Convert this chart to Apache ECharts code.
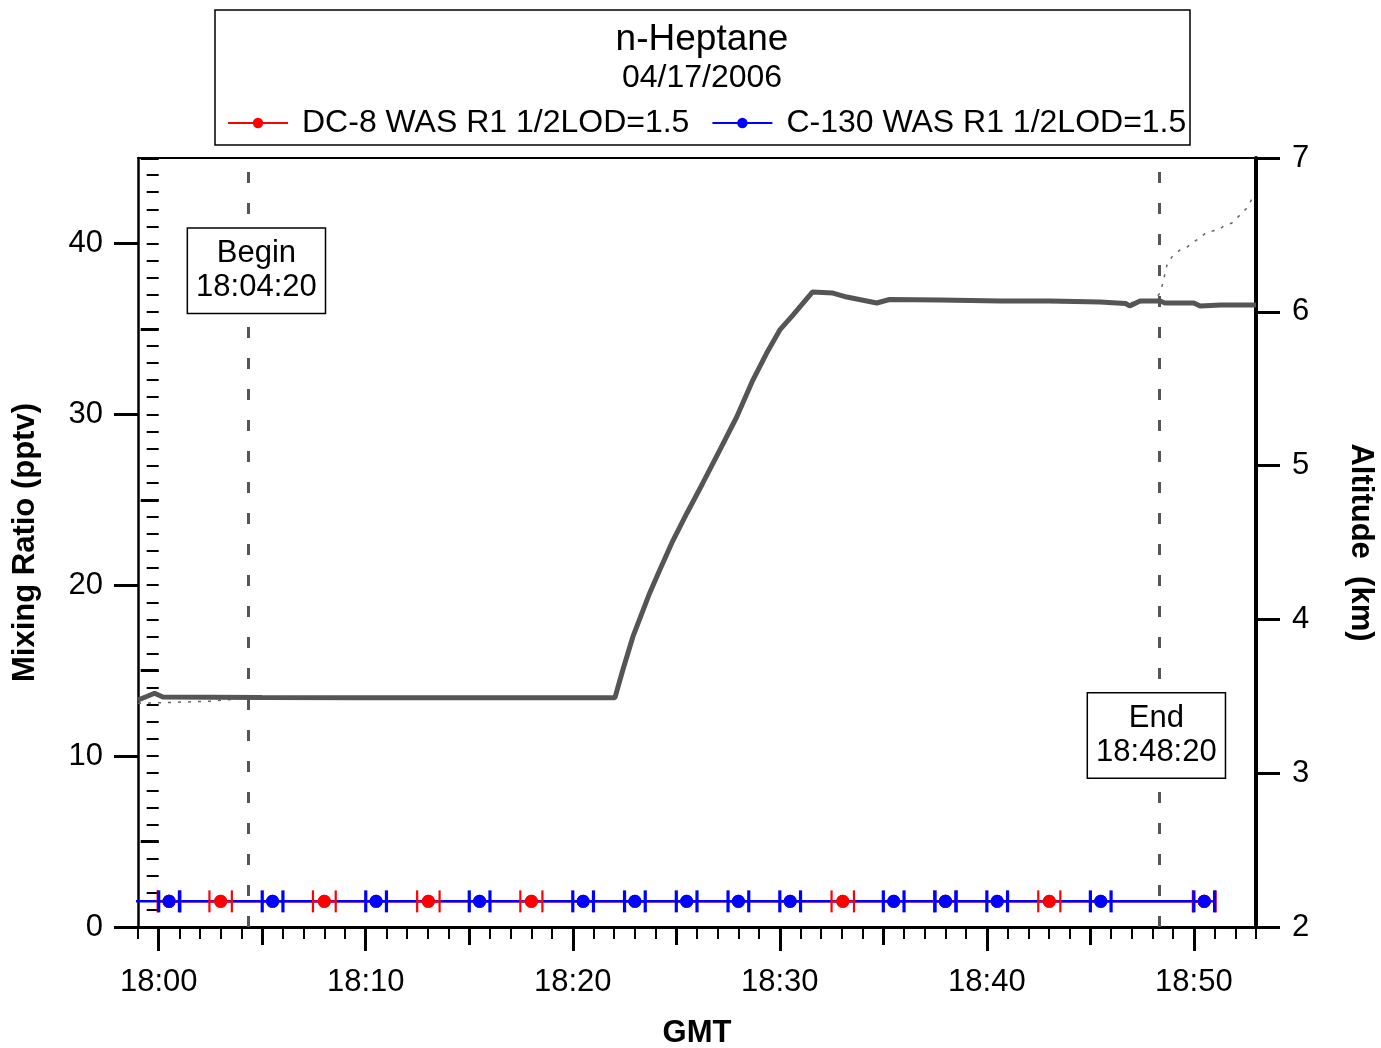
<!DOCTYPE html>
<html>
<head>
<meta charset="utf-8">
<title>n-Heptane 04/17/2006</title>
<script src="https://cdn.jsdelivr.net/npm/echarts@6/dist/echarts.min.js"></script>
<style>
  html, body { margin: 0; padding: 0; background: #fff; }
  #chart { width: 1381px; height: 1048px; }
</style>
</head>
<body>
<div id="chart"></div>
<script>
// ---- Data -----------------------------------------------------------------
const titleText = 'n-Heptane';
const dateText = '04/17/2006';
const dc8Label = 'DC-8 WAS R1 1/2LOD=1.5';
const c130Label = 'C-130 WAS R1 1/2LOD=1.5';

// Whole air samples (GMT start / stop of each canister fill, mixing ratio pptv)
const c130Start = ['17:55:00', '18:00:00', '18:05:00', '18:10:00', '18:15:00', '18:20:00', '18:22:30',
  '18:25:00', '18:27:30', '18:30:00', '18:35:00', '18:37:30', '18:40:00', '18:45:00', '18:50:00'];
const c130Stop = ['17:56:00', '18:01:00', '18:06:00', '18:11:00', '18:16:00', '18:21:00', '18:23:30',
  '18:26:00', '18:28:30', '18:31:00', '18:36:00', '18:38:30', '18:41:00', '18:46:00', '18:51:00'];
const c130Value = [1.5, 1.5, 1.5, 1.5, 1.5, 1.5, 1.5, 1.5, 1.5, 1.5, 1.5, 1.5, 1.5, 1.5, 1.5];

const dc8Start = ['17:59:57', '18:02:27', '18:07:27', '18:12:29', '18:17:28', '18:32:30', '18:37:27',
  '18:42:29', '18:49:57'];
const dc8Stop = ['18:01:03', '18:03:32', '18:08:33', '18:13:34', '18:18:32', '18:33:35', '18:38:33',
  '18:43:33', '18:51:03'];
const dc8Value = [1.5, 1.5, 1.5, 1.5, 1.5, 1.5, 1.5, 1.5, 1.5];

// Flight altitude (km), solid trace
const altSolidTime = ['17:59:00', '17:59:27', '17:59:48', '18:00:12', '18:05:00', '18:10:00', '18:15:00',
  '18:20:00', '18:22:02', '18:22:25', '18:22:54', '18:23:43', '18:24:12', '18:24:47', '18:25:31',
  '18:26:17', '18:27:06', '18:27:55', '18:28:42', '18:29:22', '18:30:00', '18:30:38', '18:31:35',
  '18:32:34', '18:33:14', '18:34:41', '18:35:18', '18:37:44', '18:40:38', '18:43:02', '18:45:28',
  '18:46:42', '18:46:54', '18:47:24', '18:48:22', '18:48:36', '18:50:00', '18:50:18', '18:51:18',
  '18:53:00'];
const altSolidKm = [3.476, 3.50, 3.52, 3.495, 3.492, 3.49, 3.49, 3.49, 3.49, 3.671, 3.886, 4.172, 4.321,
  4.497, 4.692, 4.887, 5.101, 5.316, 5.556, 5.732, 5.882, 5.979, 6.129, 6.122, 6.096, 6.057, 6.08,
  6.077, 6.07, 6.07, 6.064, 6.054, 6.038, 6.07, 6.07, 6.057, 6.057, 6.038, 6.044, 6.044];

// Flight altitude (km), dotted trace
const altDotTime = ['17:59:00', '18:00:30', '18:02:30', '18:04:00', '18:22:00', '18:22:25', '18:22:54',
  '18:23:43', '18:24:12', '18:24:47', '18:25:31', '18:26:17', '18:27:06', '18:27:55', '18:28:42',
  '18:29:22', '18:30:00', '18:30:38', '18:31:35', '18:32:34', '18:33:14', '18:34:41', '18:35:18',
  '18:37:44', '18:40:38', '18:45:28', '18:48:00', '18:48:22', '18:48:30', '18:48:42', '18:48:56',
  '18:49:19', '18:49:40', '18:50:03', '18:50:17', '18:50:38', '18:51:10', '18:51:27', '18:51:50',
  '18:52:05', '18:52:22', '18:52:34', '18:52:51', '18:53:00'];
const altDotKm = [3.455, 3.46, 3.468, 3.486, 3.486, 3.665, 3.88, 4.165, 4.315, 4.49, 4.685, 4.88, 5.095,
  5.31, 5.55, 5.725, 5.875, 5.972, 6.12, 6.115, 6.09, 6.052, 6.074, 6.072, 6.065, 6.058, 6.062, 6.122,
  6.187, 6.304, 6.356, 6.401, 6.421, 6.46, 6.48, 6.519, 6.532, 6.558, 6.577, 6.61, 6.649, 6.675, 6.746,
  6.76];

// Comparison window
const eventNames = ['Begin', 'End'];
const eventTimes = ['18:04:20', '18:48:20'];

// Axis ranges and ticks (x in minutes after 18:00 GMT)
const xMin = -1, xMax = 53;
const xMajorTicks = [0, 10, 20, 30, 40, 50];
const xMidTicks = [5, 15, 25, 35, 45];
const yMin = 0, yMax = 45;
const yMajorTicks = [0, 10, 20, 30, 40];
const yMidTicks = [5, 15, 25, 35, 45];
const altMin = 2, altMax = 7;

// ---- Helpers --------------------------------------------------------------
function toMin(t) {
  const p = t.split(':').map(Number);
  return p[0] * 60 + p[1] + (p[2] || 0) / 60 - 18 * 60;
}
function gmtLabel(v) {
  const total = 18 * 60 + Math.round(v);
  const h = Math.floor(total / 60), m = total % 60;
  return h + ':' + String(m).padStart(2, '0');
}
const FONT = 'Liberation Sans, Arial, Helvetica, sans-serif';

const altSolid = altSolidTime.map((t, i) => [toMin(t), altSolidKm[i]]);
const altDot = altDotTime.map((t, i) => [toMin(t), altDotKm[i]]);
const c130Bars = c130Start.map((t, i) => [toMin(t), toMin(c130Stop[i]), c130Value[i]]);
const dc8Bars = dc8Start.map((t, i) => [toMin(t), toMin(dc8Stop[i]), dc8Value[i]]);
const c130Pts = c130Bars.map(b => [(b[0] + b[1]) / 2, b[2]]);
const dc8Pts = dc8Bars.map(b => [(b[0] + b[1]) / 2, b[2]]);

// Sampling-interval bar with end caps
function errorBar(color, capWidth) {
  return function (params, api) {
    const v = api.value(2);
    const a = api.coord([api.value(0), v]);
    const b = api.coord([api.value(1), v]);
    const h = 11;
    return {
      type: 'group',
      children: [
        { type: 'line', shape: { x1: a[0], y1: a[1], x2: b[0], y2: b[1] }, style: { stroke: color, lineWidth: 2 } },
        { type: 'line', shape: { x1: a[0], y1: a[1] - h, x2: a[0], y2: a[1] + h }, style: { stroke: color, lineWidth: capWidth } },
        { type: 'line', shape: { x1: b[0], y1: b[1] - h, x2: b[0], y2: b[1] + h }, style: { stroke: color, lineWidth: capWidth } }
      ]
    };
  };
}

function xAxisBase(extra) {
  return Object.assign({
    type: 'value', min: xMin, max: xMax, position: 'bottom', gridIndex: 0,
    splitLine: { show: false }, axisLabel: { show: false }, axisLine: { show: false },
    axisTick: { show: false }
  }, extra);
}
function yAxisBase(extra) {
  return Object.assign({
    type: 'value', min: yMin, max: yMax, position: 'left', gridIndex: 0,
    splitLine: { show: false }, axisLabel: { show: false }, axisLine: { show: false },
    axisTick: { show: false }
  }, extra);
}

const chart = echarts.init(document.getElementById('chart'), null, { renderer: 'canvas' });

const option = {
  animation: false,
  backgroundColor: '#ffffff',
  textStyle: { fontFamily: FONT },
  title: {
    text: titleText,
    subtext: dateText,
    left: 702,
    top: 21,
    textAlign: 'center',
    itemGap: 4,
    padding: 0,
    textStyle: { fontFamily: FONT, fontSize: 37, fontWeight: 'normal', color: '#000' },
    subtextStyle: { fontFamily: FONT, fontSize: 32, color: '#000' }
  },
  legend: {
    data: [dc8Label, c130Label],
    left: 227,
    top: 107,
    padding: 0,
    itemGap: 22,
    itemWidth: 60,
    itemHeight: 13,
    textStyle: { fontFamily: FONT, fontSize: 32, color: '#000', padding: [0, 0, 0, 9] },
    selectedMode: false
  },
  graphic: [{
    type: 'rect',
    shape: { x: 215, y: 10, width: 975, height: 135 },
    style: { fill: 'none', stroke: '#000', lineWidth: 1.5 },
    z: 10
  }],
  grid: { left: 138, right: 125, top: 158, bottom: 121, containLabel: false, outerBoundsMode: 'none' },
  xAxis: [
    xAxisBase({
      name: 'GMT', nameLocation: 'middle', nameGap: 91,
      nameTextStyle: { fontFamily: FONT, fontSize: 31, fontWeight: 'bold', color: '#000' },
      axisLine: { show: true, onZero: false, lineStyle: { color: '#000', width: 3 } },
      axisTick: { show: true, customValues: xMajorTicks, length: 24, lineStyle: { color: '#000', width: 3 } },
      axisLabel: { show: true, customValues: xMajorTicks, formatter: gmtLabel, margin: 40,
        fontFamily: FONT, fontSize: 31, color: '#000' }
    }),
    xAxisBase({
      axisTick: { show: true, customValues: xMidTicks, length: 18, lineStyle: { color: '#000', width: 3 } }
    }),
    xAxisBase({
      interval: 1,
      axisTick: { show: true, interval: 0, length: 12, lineStyle: { color: '#000', width: 2 } }
    }),
    xAxisBase({
      position: 'top',
      axisLine: { show: true, onZero: false, lineStyle: { color: '#000', width: 2 } }
    })
  ],
  yAxis: [
    yAxisBase({
      name: 'Mixing Ratio (pptv)', nameLocation: 'middle', nameGap: 97, nameRotate: 90,
      nameTextStyle: { fontFamily: FONT, fontSize: 31, fontWeight: 'bold', color: '#000' },
      axisLine: { show: true, onZero: false, lineStyle: { color: '#000', width: 2.5 } },
      axisTick: { show: true, customValues: yMajorTicks, length: 24, lineStyle: { color: '#000', width: 3 } },
      axisLabel: { show: true, customValues: yMajorTicks, margin: 35,
        fontFamily: FONT, fontSize: 31, color: '#000' }
    }),
    yAxisBase({
      axisTick: { show: true, customValues: yMidTicks, length: 18, lineStyle: { color: '#000', width: 3 } }
    }),
    yAxisBase({
      interval: 1,
      axisTick: { show: true, interval: 0, length: 12, lineStyle: { color: '#000', width: 2 } }
    }),
    {
      type: 'value', min: altMin, max: altMax, interval: 1, position: 'right', gridIndex: 0,
      name: 'Altitude  (km)', nameLocation: 'middle', nameGap: 89, nameRotate: -90,
      nameTextStyle: { fontFamily: FONT, fontSize: 31, fontWeight: 'bold', color: '#000' },
      splitLine: { show: false },
      axisLine: { show: true, onZero: false, lineStyle: { color: '#000', width: 4 } },
      axisTick: { show: true, length: 24, lineStyle: { color: '#000', width: 3 } },
      axisLabel: { show: true, margin: 36, fontFamily: FONT, fontSize: 31, color: '#000' }
    }
  ],
  series: [
    {
      name: 'Altitude (dotted)', type: 'line', xAxisIndex: 0, yAxisIndex: 3,
      data: altDot, showSymbol: false, symbol: 'none', z: 2, silent: true,
      lineStyle: { color: '#666', width: 1.5, type: [3, 7] }
    },
    {
      name: 'Altitude', type: 'line', xAxisIndex: 0, yAxisIndex: 3,
      data: altSolid, showSymbol: false, symbol: 'none', z: 3, silent: true,
      lineStyle: { color: '#555', width: 5 }
    },
    {
      name: 'Window', type: 'line', xAxisIndex: 0, yAxisIndex: 0, data: [], z: 4, silent: true,
      markLine: {
        silent: true, symbol: ['none', 'none'], label: { show: false },
        lineStyle: { color: '#555', width: 3, type: [11, 20] },
        data: eventTimes.map(t => ({ xAxis: toMin(t) }))
      },
      markPoint: {
        silent: true, symbol: 'rect', symbolSize: 1, itemStyle: { color: 'rgba(0,0,0,0)' },
        data: [
          { coord: [toMin(eventTimes[0]), 38.4], label: { offset: [8, 0] } },
          { coord: [toMin(eventTimes[1]), 11.2], label: { offset: [-3, 0] } }
        ].map((d, i) => Object.assign(d, { value: eventNames[i] + '\n' + eventTimes[i] })),
        label: {
          show: true, position: 'inside', formatter: p => p.value,
          fontFamily: FONT, fontSize: 31, lineHeight: 34, color: '#000',
          backgroundColor: '#fff', borderColor: '#000', borderWidth: 1.5, padding: [8, 8, 8, 8]
        }
      }
    },
    {
      name: dc8Label, type: 'line', xAxisIndex: 0, yAxisIndex: 0, data: dc8Pts, z: 5,
      symbol: 'circle', symbolSize: 13, showSymbol: true, color: '#ff0000',
      itemStyle: { color: '#ff0000' }, lineStyle: { color: '#ff0000', width: 2.5 }
    },
    {
      name: c130Label, type: 'line', xAxisIndex: 0, yAxisIndex: 0, data: c130Pts, z: 6,
      symbol: 'circle', symbolSize: 13, showSymbol: true, color: '#0000ff',
      itemStyle: { color: '#0000ff' }, lineStyle: { color: '#0000ff', width: 2.5 }
    },
    {
      name: dc8Label, type: 'custom', xAxisIndex: 0, yAxisIndex: 0, data: dc8Bars, z: 7,
      renderItem: errorBar('#ff0000', 2.2), encode: { x: [0, 1], y: 2 }, clip: true, silent: true
    },
    {
      name: dc8Label, type: 'scatter', xAxisIndex: 0, yAxisIndex: 0, data: dc8Pts, z: 8,
      symbol: 'circle', symbolSize: 13, itemStyle: { color: '#ff0000', opacity: 1 }, silent: true
    },
    {
      name: c130Label, type: 'custom', xAxisIndex: 0, yAxisIndex: 0, data: c130Bars, z: 9,
      renderItem: errorBar('#0000ff', 3.2), encode: { x: [0, 1], y: 2 }, clip: true, silent: true
    },
    {
      name: c130Label, type: 'scatter', xAxisIndex: 0, yAxisIndex: 0, data: c130Pts, z: 10,
      symbol: 'circle', symbolSize: 13, itemStyle: { color: '#0000ff', opacity: 1 }, silent: true
    }
  ]
};

chart.setOption(option);
</script>
</body>
</html>
